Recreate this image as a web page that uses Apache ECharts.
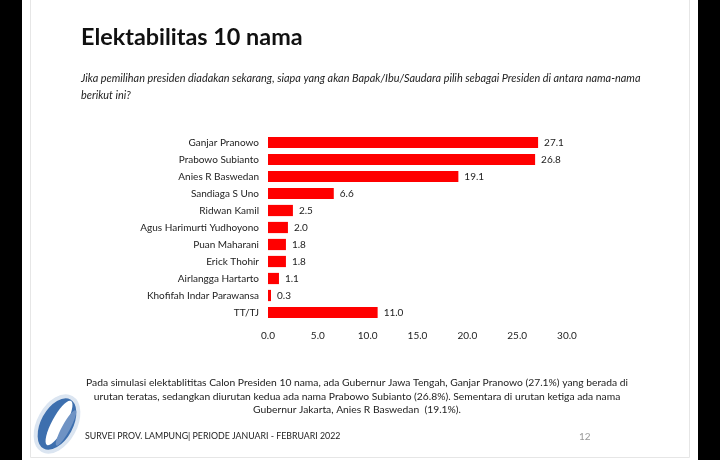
<!DOCTYPE html>
<html><head><meta charset="utf-8">
<script src="https://cdn.jsdelivr.net/npm/echarts@6/dist/echarts.min.js"></script>
<style>html,body{margin:0;padding:0;background:#fff}#c{width:720px;height:460px}</style>
</head><body><div id="c"></div>
<script>
const categories = ["Ganjar Pranowo","Prabowo Subianto","Anies R Baswedan","Sandiaga S Uno","Ridwan Kamil","Agus Harimurti Yudhoyono","Puan Maharani","Erick Thohir","Airlangga Hartarto","Khofifah Indar Parawansa","TT/TJ"];
const values = [27.1,26.8,19.1,6.6,2.5,2.0,1.8,1.8,1.1,0.3,11.0];
const titleText = "Elektabilitas 10 nama";
const questionLines = ["Jika pemilihan presiden diadakan sekarang, siapa yang akan Bapak/Ibu/Saudara pilih sebagai Presiden di antara nama-nama","berikut ini?"];
const noteLines = ["Pada simulasi elektablititas Calon Presiden 10 nama, ada Gubernur Jawa Tengah, Ganjar Pranowo (27.1%) yang berada di","urutan teratas, sedangkan diurutan kedua ada nama Prabowo Subianto (26.8%). Sementara di urutan ketiga ada nama","Gubernur Jakarta, Anies R Baswedan  (19.1%)."];
const footerText = "SURVEI PROV. LAMPUNG| PERIODE JANUARI - FEBRUARI 2022";
const pageNo = "12";

const FONT = "Lato";
const chart = echarts.init(document.getElementById('c'));
const graphics = [
  {type:'rect', shape:{x:0,y:0,width:22,height:460}, style:{fill:'#000'}},
  {type:'rect', shape:{x:698,y:0,width:22,height:460}, style:{fill:'#000'}},
  {type:'line', shape:{x1:30.5,y1:0,x2:30.5,y2:457.5}, style:{stroke:'#e6e6e6',lineWidth:1}},
  {type:'line', shape:{x1:689.5,y1:0,x2:689.5,y2:457.5}, style:{stroke:'#e6e6e6',lineWidth:1}},
  {type:'line', shape:{x1:30.5,y1:457.5,x2:689.5,y2:457.5}, style:{stroke:'#e6e6e6',lineWidth:1}},
  {type:'text', left:81, top:26, style:{text:titleText, font:'bold 23.4px '+FONT, fill:'#111'}},
  {type:'text', left:81, top:70, style:{text:questionLines.join('\n'), font:'italic 10.9px '+FONT, fill:'#222', lineHeight:17}},
  {type:'text', x:357, y:376, style:{text:noteLines.join('\n'), font:'10.3px '+FONT, fill:'#222', lineHeight:13.5, align:'center'}},
  {type:'text', left:85, top:432, style:{text:footerText, font:'8.8px '+FONT, fill:'#222'}},
  {type:'text', left:579, top:432, style:{text:pageNo, font:'10px '+FONT, fill:'#999'}},
  {type:'ellipse', x:57, y:424, rotation:-0.5, shape:{cx:0,cy:0,rx:18,ry:30}, style:{fill:'#3d6fae',stroke:'#dbe5f1',lineWidth:4}},
  {type:'ellipse', x:59, y:423, rotation:-0.5, shape:{cx:0,cy:0,rx:7,ry:25}, style:{fill:'#ffffff'}},
  {type:'ellipse', x:66, y:428, rotation:-0.5, shape:{cx:0,cy:0,rx:4,ry:20}, style:{fill:'#6f93c4'}}
];
chart.setOption({
  animation:false,
  backgroundColor:'#fff',
  textStyle:{fontFamily:FONT},
  graphic:graphics,
  grid:{left:268, right:153, top:134, bottom:139, containLabel:false},
  xAxis:{type:'value', min:0, max:30, interval:5,
    axisLine:{show:false}, axisTick:{show:false}, splitLine:{show:false},
    axisLabel:{formatter:v=>v.toFixed(1), fontSize:10, color:'#222', margin:10, fontFamily:FONT}},
  yAxis:{type:'category', data:categories, inverse:true,
    axisLine:{show:false}, axisTick:{show:false},
    axisLabel:{fontSize:10, color:'#222', margin:9, fontFamily:FONT}},
  series:[{type:'bar', data:values, barCategoryGap:'34%',
    itemStyle:{color:'#ff0000'},
    label:{show:true, position:'right', distance:6, formatter:p=>p.value.toFixed(1), fontSize:10, color:'#222', fontFamily:FONT}}]
});
</script></body></html>
